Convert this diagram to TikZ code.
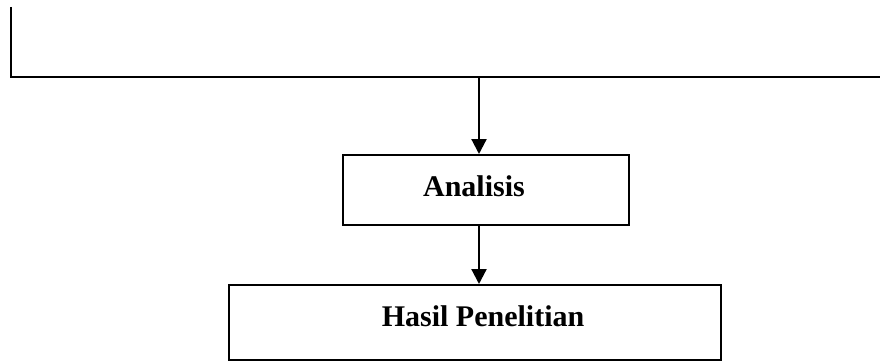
\documentclass[tikz,border=0pt]{standalone}
\usepackage{fontspec}
\setmainfont{Liberation Serif}
\usetikzlibrary{arrows.meta}
\begin{document}
\begin{tikzpicture}[x=1pt,y=-1pt,
  boxstyle/.style={draw=black,line width=2pt,inner sep=0pt,rectangle},
  lbl/.style={font=\fontsize{30}{34}\selectfont\bfseries,inner sep=0pt},
  conn/.style={line width=2.5pt},
  arr/.style={line width=2.2pt,-{Triangle[length=15pt,width=15pt]}}]
\useasboundingbox (0,0) rectangle (880,361);
\fill[white] (0,0) rectangle (880,361);
\coordinate (tl) at (11,7);
\coordinate (corner) at (11,77);
\coordinate (tr) at (880,77);
\coordinate (split) at (479,77);
\node[boxstyle,minimum width=286pt,minimum height=70pt] (ana) at (486,190) {};
\node[boxstyle,minimum width=492pt,minimum height=75pt] (hasil) at (475,322.5) {};
\node[lbl] (anatext) at (474,186) {Analisis};
\node[lbl] (hasiltext) at (483,316) {Hasil Penelitian};
\draw[conn] (tl) -- (corner) -- (tr);
\draw[arr] (split) -- (split |- ana.north);
\draw[arr] (split |- ana.south) -- (split |- hasil.north);
\end{tikzpicture}
\end{document}
